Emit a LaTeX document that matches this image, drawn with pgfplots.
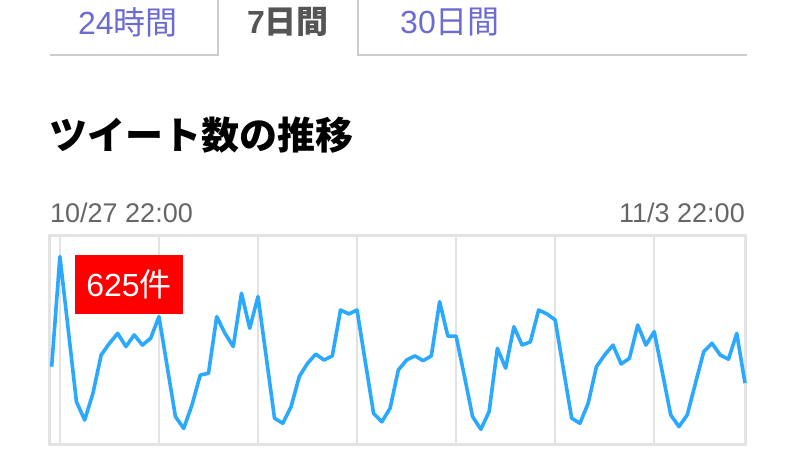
\documentclass[border=0pt]{standalone}
\usepackage{pgfplots}
\pgfplotsset{compat=1.18}
\usepackage{fontspec}
\setmainfont{Liberation Sans}
\newfontfamily\cjk{Noto Sans CJK JP}
\definecolor{tabblue}{HTML}{6B6BD2}
\definecolor{tabgray}{HTML}{555555}
\definecolor{labgray}{HTML}{666666}
\definecolor{framegray}{HTML}{E3E3E3}
\definecolor{linegray}{HTML}{CCCCCC}
\definecolor{tweetblue}{HTML}{2AA9FF}

\begin{document}
\begin{tikzpicture}[x=1pt,y=1pt]
	\useasboundingbox (0,0) rectangle (800,450);
	\fill[white] (0,0) rectangle (800,450);

	% tabs
	\draw[linegray, line width=2.5pt] (50,395) -- (218,395) -- (218,452);
	\draw[linegray, line width=2.5pt] (358,452) -- (358,395) -- (747,395);
	\node[tabblue, font=\fontsize{32}{36}\selectfont] at (128,428) {24{\cjk 時間}};
	\node[tabgray, font=\fontsize{32}{36}\selectfont\bfseries] at (288,428) {7{\cjk\bfseries 日間}};
	\node[tabblue, font=\fontsize{32}{36}\selectfont] at (450,428) {30{\cjk 日間}};

	% title
	\node[anchor=west, inner sep=0pt, font=\fontsize{38}{42}\selectfont] at (49,315) {\cjk\bfseries ツイート数の推移};

	% period
	\node[anchor=west, inner sep=0pt, labgray, font=\fontsize{27}{30}\selectfont] at (50,237) {10/27 22:00};
	\node[anchor=east, inner sep=0pt, labgray, font=\fontsize{27}{30}\selectfont] at (745,237) {11/3 22:00};

	\begin{axis}[
		at={(50pt,6pt)}, anchor=south west,
		scale only axis, width=695pt, height=208pt,
		xmin=-0.2, xmax=84, ymin=0, ymax=694,
		xtick={1,13,25,37,49,61,73}, ytick=\empty,
		xticklabels={}, major tick length=0pt,
		xmajorgrids, grid style={framegray, line width=1.8pt},
		axis line style={framegray, line width=3pt},
		clip=false,
	]
		\addplot[tweetblue, line width=3.6pt, line join=round, mark=none] coordinates {
			(0,258) (1,625) (2,384) (3,141) (4,80) (5,169) (6,297) (7,336) (8,369) (9,325)
			(10,364) (11,330) (12,353) (13,425) (14,258) (15,91) (16,52) (17,130) (18,230) (19,236)
			(20,425) (21,369) (22,325) (23,503) (24,386) (25,492) (26,290) (27,86) (28,69) (29,124)
			(30,225) (31,269) (32,300) (33,280) (34,294) (35,447) (36,434) (37,447) (38,274) (39,102)
			(40,74) (41,119) (42,247) (43,280) (44,294) (45,278) (46,294) (47,475) (48,360) (49,360)
			(50,227) (51,91) (52,49) (53,108) (54,319) (55,253) (56,391) (57,330) (58,341) (59,447)
			(60,434) (61,414) (62,250) (63,86) (64,69) (65,136) (66,258) (67,297) (68,330) (69,267)
			(70,286) (71,397) (72,330) (73,375) (74,237) (75,97) (76,58) (77,97) (78,203) (79,308)
			(80,336) (81,297) (82,283) (83,369) (84,203)
		};
	\end{axis}

	% peak label
	\fill[red] (75,136) rectangle (183,195);
	\node[white, font=\fontsize{32}{36}\selectfont] at (129,166) {625{\cjk 件}};
\end{tikzpicture}
\end{document}
